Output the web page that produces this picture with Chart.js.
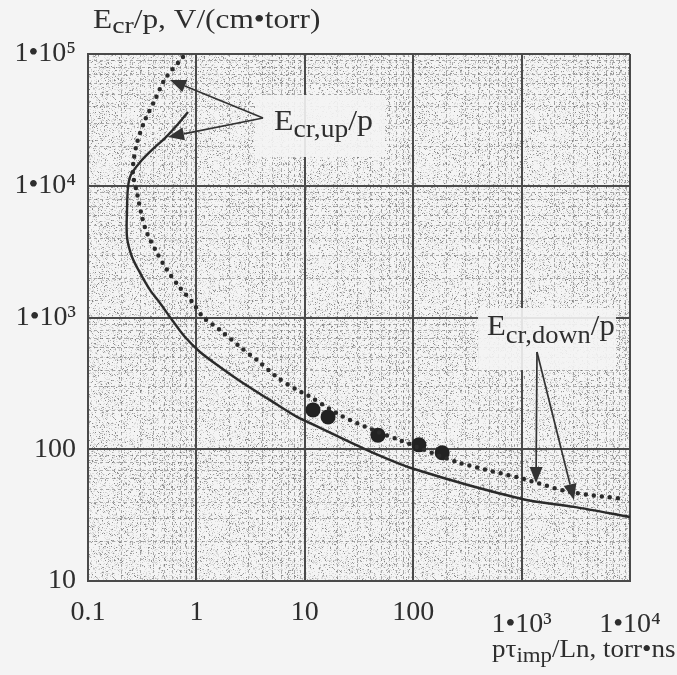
<!DOCTYPE html>
<html>
<head>
<meta charset="utf-8">
<script src="https://cdn.jsdelivr.net/npm/chart.js@4"></script>
<style>
html,body{margin:0;padding:0;background:#f4f4f4;}
#wrap{width:677px;height:675px;position:relative;}
</style>
</head>
<body>
<div id="wrap"><canvas id="c"></canvas></div>
<script>
// ---- data ----
const solidX = [0.837, 0.677, 0.513, 0.389, 0.302, 0.249, 0.234, 0.229, 0.229, 0.255, 0.302, 0.373, 0.461, 0.596, 0.785, 1.08, 1.65, 2.69, 4.78, 8.47, 11.2, 37.5, 102, 1010, 3040, 10000];
const solidY = [36300, 29400, 23000, 18700, 15100, 12100, 9770, 6540, 4080, 2880, 2180, 1620, 1290, 958, 711, 547, 421, 318, 236, 176, 158, 98.6, 70.8, 41.9, 36.5, 30.6];

const dottedX = [0.752, 0.513, 0.415, 0.336, 0.283, 0.262, 0.260, 0.283, 0.315, 0.350, 0.433, 0.536, 0.706, 0.930, 1.15, 1.65, 2.53, 3.62, 5.54, 8.47, 10.5, 21.1, 42.6, 75.5, 254, 1050, 2790, 8810];
const dottedY = [94900, 64600, 44800, 31600, 21100, 15000, 12100, 8810, 5800, 4380, 3090, 2300, 1680, 1290, 1010, 803, 597, 475, 353, 282, 258, 182, 140, 117, 80, 59.4, 47.4, 41.9];

const measX = [11.9, 16.4, 47.3, 113, 185];
const measY = [199, 176, 128, 108, 94];

const xTickValues = [0.1, 1, 10, 100, 1000, 10000];
const xTickLabels = ['0.1', '1', '10', '100', '1•10³', '1•10⁴'];
const yTickValues = [10, 100, 1000, 10000, 100000];
const yTickLabels = ['10', '100', '1•10³', '1•10⁴', '1•10⁵'];

// ---- styling helpers ----
const FONT = '"Liberation Serif", "Times New Roman", serif';
const INK = '#2e2e2e';
const GRID = '#4a4a4a';

function hash(x, y) {
  let h = (Math.imul(x, 374761393) + Math.imul(y, 668265263)) | 0;
  h = Math.imul(h ^ (h >>> 13), 1274126177);
  h = h ^ (h >>> 16);
  return (h >>> 0) / 4294967296;
}
let texturePattern = null;
function getTexture(ctx) {
  if (texturePattern) return texturePattern;
  const n = 160;
  const off = document.createElement('canvas');
  off.width = n; off.height = n;
  const octx = off.getContext('2d');
  const img = octx.createImageData(n, n);
  for (let y = 0; y < n; y++) {
    for (let x = 0; x < n; x++) {
      const i = (y * n + x) * 4;
      const v = hash(x, y);
      let g = 244;
      if (v < 0.12) g = 130 + Math.floor(hash(x + 7, y + 13) * 90);
      else if (v < 0.26) g = 220;
      img.data[i] = g; img.data[i + 1] = g; img.data[i + 2] = g; img.data[i + 3] = 255;
    }
  }
  octx.putImageData(img, 0, 0);
  texturePattern = ctx.createPattern(off, 'repeat');
  return texturePattern;
}

function rich(ctx, x, y, parts, stretch) {
  ctx.save();
  ctx.translate(x, y);
  ctx.scale(stretch, 1);
  ctx.textBaseline = 'alphabetic';
  ctx.textAlign = 'left';
  ctx.fillStyle = INK;
  let cx = 0;
  for (const p of parts) {
    ctx.font = p.size + 'px ' + FONT;
    ctx.fillText(p.t, cx, p.dy || 0);
    cx += ctx.measureText(p.t).width;
  }
  ctx.restore();
}

function arrow(ctx, from, to) {
  const dx = to[0] - from[0], dy = to[1] - from[1];
  const len = Math.hypot(dx, dy);
  const ux = dx / len, uy = dy / len;
  const hl = 16, hw = 6.5;
  const bx = to[0] - ux * hl, by = to[1] - uy * hl;
  ctx.beginPath();
  ctx.moveTo(from[0], from[1]);
  ctx.lineTo(bx, by);
  ctx.stroke();
  ctx.beginPath();
  ctx.moveTo(to[0], to[1]);
  ctx.lineTo(bx - uy * hw, by + ux * hw);
  ctx.lineTo(bx + uy * hw, by - ux * hw);
  ctx.closePath();
  ctx.fill();
}

// annotation anchors (data coordinates)
const ANN = {
  up: { label: [5.2, 26500], apex: [4.12, 32700], tips: [[0.571, 63500], [0.547, 23400]], box: [-19, -35, 130, 62] },
  down: { label: [480, 736], apex: [1387, 547], tips: [[1358, 55.5], [3040, 41.2]], box: [-9, -27, 138, 62] }
};

const backgroundPlugin = {
  id: 'bg',
  beforeDraw(chart) {
    const { ctx, chartArea: a } = chart;
    ctx.save();
    ctx.fillStyle = '#f4f4f4';
    ctx.fillRect(0, 0, chart.width, chart.height);
    ctx.fillStyle = getTexture(ctx);
    ctx.fillRect(a.left, a.top, a.right - a.left, a.bottom - a.top);
    // minor grid lines
    const xs = chart.scales.x, ys = chart.scales.y;
    ctx.strokeStyle = 'rgba(100,100,100,0.5)';
    ctx.lineWidth = 1;
    ctx.setLineDash([3, 3]);
    for (let d = -1; d < 4; d++) {
      for (let k = 2; k <= 9; k++) {
        const px = Math.round(xs.getPixelForValue(k * Math.pow(10, d))) + 0.5;
        ctx.beginPath(); ctx.moveTo(px, a.top); ctx.lineTo(px, a.bottom); ctx.stroke();
      }
    }
    for (let d = 1; d < 5; d++) {
      for (let k = 2; k <= 9; k++) {
        const py = Math.round(ys.getPixelForValue(k * Math.pow(10, d))) + 0.5;
        ctx.beginPath(); ctx.moveTo(a.left, py); ctx.lineTo(a.right, py); ctx.stroke();
      }
    }
    ctx.restore();
  }
};

const annotationPlugin = {
  id: 'ann',
  beforeDatasetsDraw(chart) {
    const { ctx } = chart;
    const xs = chart.scales.x, ys = chart.scales.y;
    ctx.save();
    ctx.fillStyle = 'rgba(244,244,244,0.9)';
    for (const key of ['up', 'down']) {
      const a = ANN[key];
      const lx = xs.getPixelForValue(a.label[0]), ly = ys.getPixelForValue(a.label[1]);
      ctx.fillRect(lx + a.box[0], ly + a.box[1], a.box[2], a.box[3]);
    }
    ctx.restore();
  },
  afterDatasetsDraw(chart) {
    const { ctx } = chart;
    const xs = chart.scales.x, ys = chart.scales.y;
    const P = (v) => [xs.getPixelForValue(v[0]), ys.getPixelForValue(v[1])];
    ctx.save();
    ctx.strokeStyle = '#333';
    ctx.fillStyle = '#333';
    ctx.lineWidth = 1.7;
    for (const key of ['up', 'down']) {
      const a = ANN[key];
      for (const t of a.tips) arrow(ctx, P(a.apex), P(t));
    }
    ctx.restore();
    const up = P(ANN.up.label), dn = P(ANN.down.label);
    rich(ctx, up[0], up[1], [
      { t: 'E', size: 29 }, { t: 'cr,up', size: 25, dy: 7 }, { t: '/p', size: 29 }
    ], 1.1);
    rich(ctx, dn[0], dn[1], [
      { t: 'E', size: 29 }, { t: 'cr,down', size: 25, dy: 8 }, { t: '/p', size: 29 }
    ], 1.06);
  },
  afterDraw(chart) {
    const { ctx } = chart;
    // axis titles
    rich(ctx, 93, 28, [
      { t: 'E', size: 27 }, { t: 'cr', size: 24, dy: 5 }, { t: '/p, V/(cm•torr)', size: 27 }
    ], 1.16);
    rich(ctx, 492, 657, [
      { t: 'pτ', size: 26 }, { t: 'imp', size: 22, dy: 5 }, { t: '/Ln, torr•ns', size: 26 }
    ], 1.04);
  }
};

const ctx = document.getElementById('c').getContext('2d');
new Chart(ctx, {
  type: 'scatter',
  data: {
    datasets: [
      {
        label: 'solid',
        data: solidX.map((x, i) => ({ x: x, y: solidY[i] })),
        showLine: true,
        borderColor: '#2b2b2b',
        borderWidth: 2.4,
        pointRadius: 0,
        tension: 0.3,
        fill: false
      },
      {
        label: 'dotted',
        data: dottedX.map((x, i) => ({ x: x, y: dottedY[i] })),
        showLine: true,
        borderColor: '#2b2b2b',
        borderWidth: 4.5,
        borderDash: [0, 8],
        borderCapStyle: 'round',
        pointRadius: 0,
        tension: 0.3,
        fill: false
      },
      {
        label: 'measured',
        data: measX.map((x, i) => ({ x: x, y: measY[i] })),
        showLine: false,
        pointRadius: 7.5,
        pointBackgroundColor: '#222',
        pointBorderWidth: 0
      }
    ]
  },
  options: {
    responsive: true,
    maintainAspectRatio: false,
    animation: false,
    events: [],
    layout: { padding: { top: 54, right: 47, bottom: 0, left: 0 } },
    plugins: { legend: { display: false }, tooltip: { enabled: false } },
    scales: {
      x: {
        type: 'logarithmic',
        min: 0.1,
        max: 10000,
        afterBuildTicks: (s) => { s.ticks = xTickValues.map(v => ({ value: v })); },
        afterFit: (s) => { s.height = 94; },
        ticks: {
          autoSkip: false,
          maxRotation: 0,
          padding: 15,
          color: INK,
          font: (c) => ({ family: FONT, size: 28, lineHeight: (c.tick && c.tick.value >= 1000) ? 2.05 : 1.2 }),
          callback: (v, i) => xTickLabels[i]
        },
        grid: { color: GRID, lineWidth: 2, drawTicks: false },
        border: { display: true, color: GRID, width: 2 }
      },
      y: {
        type: 'logarithmic',
        min: 10,
        max: 100000,
        afterBuildTicks: (s) => { s.ticks = yTickValues.map(v => ({ value: v })); },
        afterFit: (s) => { s.width = 88; },
        ticks: {
          autoSkip: false,
          padding: 12,
          color: INK,
          font: { family: FONT, size: 28 },
          callback: (v, i) => yTickLabels[i]
        },
        grid: { color: GRID, lineWidth: 2, drawTicks: false },
        border: { display: true, color: GRID, width: 2 }
      }
    }
  },
  plugins: [backgroundPlugin, annotationPlugin]
});
</script>
</body>
</html>
